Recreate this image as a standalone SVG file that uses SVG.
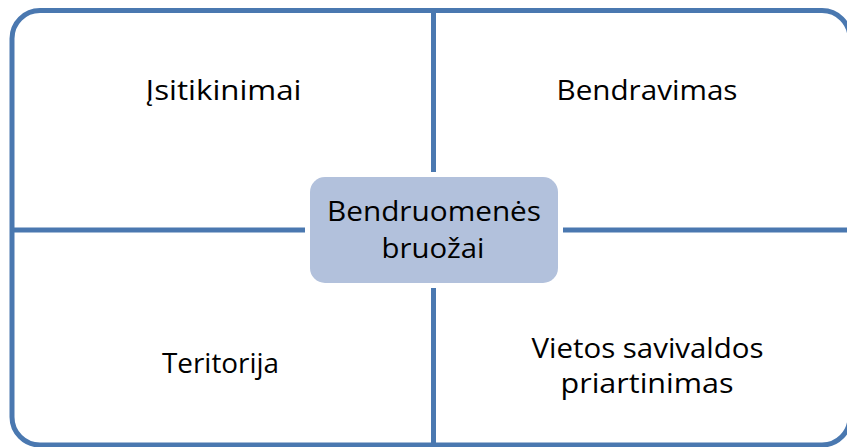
<svg xmlns="http://www.w3.org/2000/svg" width="847" height="447" viewBox="0 0 847 447">
<style>
.ln{stroke:#4a78b0;stroke-width:5;fill:none}
.t{font-family:"Open Sans","Liberation Sans",sans-serif;font-size:27px;fill:#000;text-anchor:middle}
</style>
<rect width="847" height="447" fill="#fff"/>
<g id="frame">
<rect class="ln" x="12" y="10.5" width="838" height="434.5" rx="28"/>
</g>
<g id="connectors">
<line class="ln" x1="433.5" y1="10" x2="433.5" y2="447"/>
<line class="ln" x1="12" y1="230" x2="850" y2="230"/>
</g>
<g id="center">
<rect x="310" y="177" width="248" height="106" rx="15" fill="#b2c1dc" stroke="#fff" stroke-width="10"/>
<rect x="310" y="177" width="248" height="106" rx="15" fill="#b2c1dc"/>
<text class="t" x="434" y="221" textLength="214" lengthAdjust="spacingAndGlyphs">Bendruomenės</text>
<text class="t" x="433" y="258" textLength="103" lengthAdjust="spacingAndGlyphs">bruožai</text>
</g>
<g id="q1"><text class="t" x="223.5" y="100" textLength="156" lengthAdjust="spacingAndGlyphs">Įsitikinimai</text></g>
<g id="q2"><text class="t" x="647" y="100" textLength="181" lengthAdjust="spacingAndGlyphs">Bendravimas</text></g>
<g id="q3"><text class="t" x="220.5" y="373" textLength="117" lengthAdjust="spacingAndGlyphs">Teritorija</text></g>
<g id="q4">
<text class="t" x="647.5" y="358" textLength="232" lengthAdjust="spacingAndGlyphs">Vietos savivaldos</text>
<text class="t" x="647" y="393" textLength="173" lengthAdjust="spacingAndGlyphs">priartinimas</text>
</g>
</svg>
